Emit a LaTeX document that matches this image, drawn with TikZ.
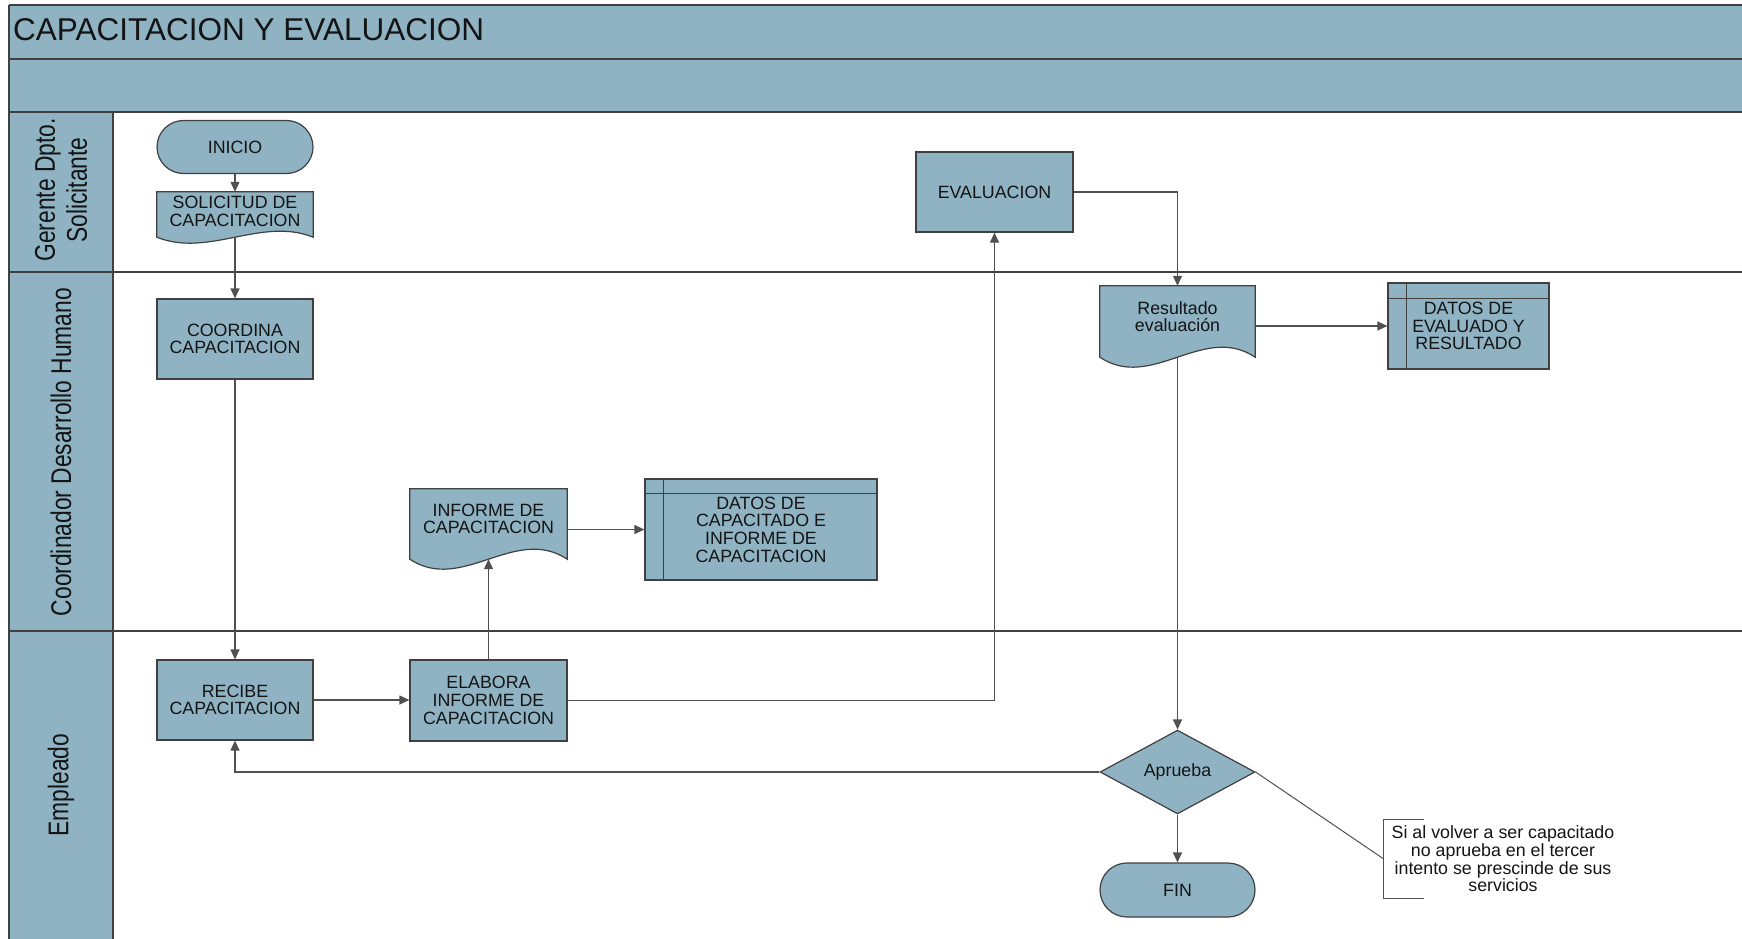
\documentclass[tikz,border=0pt]{standalone}
\usepackage{fontspec}
\setmainfont{Liberation Sans}
\newfontfamily\lanefont[FakeStretch=0.8]{Liberation Sans}
\usetikzlibrary{arrows.meta,shapes.geometric,shapes.misc,calc}
\definecolor{boxfill}{RGB}{143,179,195}
\definecolor{edge}{RGB}{64,64,64}
\definecolor{wire}{RGB}{80,80,80}
\definecolor{ink}{RGB}{20,20,20}
\newcommand{\flowtext}{\fontsize{17.8}{17.7}\selectfont}
\newcommand{\titletext}{\fontsize{31.5}{34}\selectfont}
\newcommand{\lanetext}{\lanefont\fontsize{28.5}{32}\selectfont}
% document shape: flat top, wavy bottom through the node's south anchor
% #1 node name, #2 width, #3 wave amplitude
\newcommand{\docshape}[3]{%
  \draw[shapeline, fill=boxfill] (#1.north west) -- (#1.north east) -- (#1.south east)
    .. controls +({-#2/3},{-3.46*#3}) and +({#2/3},{3.46*#3}) .. (#1.south west) -- cycle;}
\begin{document}
\begin{tikzpicture}[x=1pt,y=-1pt,
  frame/.style={draw=edge, line width=1.4pt},
  shapeline/.style={draw=edge, line width=1.2pt},
  proc/.style={shapeline, fill=boxfill, inner sep=0pt, align=center, text=ink, font=\flowtext},
  term/.style={proc, rounded rectangle},
  decision/.style={proc, diamond, minimum width=155pt, minimum height=80pt},
  docbox/.style={draw=none, inner sep=0pt},
  txt/.style={inner sep=0pt, align=center, text=ink, font=\flowtext},
  lane/.style={inner sep=0pt, align=center, text=ink, font=\lanetext, rotate=90},
  conn/.style={draw=wire, line width=1.2pt, -{Triangle[length=10pt,width=9pt]}},
  thinline/.style={draw=wire, line width=1pt},
]
\useasboundingbox (0,0) rectangle (1742,939);
\clip (0,0) rectangle (1742,939);

% header bands and lane column
\fill[boxfill] (9,5) rectangle (1760,112);
\fill[boxfill] (9,112) rectangle (113,950);
\draw[frame] (9,5) -- (1760,5);
\draw[frame] (9,59) -- (1760,59);
\draw[frame] (9,112) -- (1760,112);
\draw[frame] (9,272) -- (1760,272);
\draw[frame] (9,631) -- (1760,631);
\draw[frame] (9,5) -- (9,950);
\draw[frame] (113,112) -- (113,950);

\node[anchor=base west, text=ink, font=\titletext, inner sep=0pt] (title) at (13,41) {CAPACITACION Y EVALUACION};

\node[lane] (lane1) at (61,190) {Gerente Dpto.\\Solicitante};
\node[lane] (lane2) at (61,452) {Coordinador Desarrollo Humano};
\node[lane] (lane3) at (61,785) {Empleado};

% lane 1
\node[term, minimum width=156pt, minimum height=53pt] (inicio) at (235,147) {INICIO};
\node[docbox, minimum width=156pt, minimum height=45pt] (sol) at (235,214.5) {};
\docshape{sol}{156}{6}
\node[txt] (sol-t) at ([yshift=3pt]sol.center) {SOLICITUD DE\\CAPACITACION};
\node[proc, minimum width=157pt, minimum height=80pt] (eval) at (994.5,192) {EVALUACION};

% lane 2
\node[proc, minimum width=156pt, minimum height=80pt] (coord) at (235,339) {COORDINA\\CAPACITACION};
\node[docbox, minimum width=157pt, minimum height=70pt] (inf) at (488.5,524) {};
\docshape{inf}{157}{10}
\node[txt] (inf-t) at ([yshift=5pt]inf.center) {INFORME DE\\CAPACITACION};
\node[proc, minimum width=232pt, minimum height=101pt] (datc) at (761,529.5) {DATOS DE\\CAPACITADO E\\INFORME DE\\CAPACITACION};
\draw[shapeline] ([xshift=19pt]datc.north west) -- ([xshift=19pt]datc.south west);
\draw[shapeline] ([yshift=-15pt]datc.north west) -- ([yshift=-15pt]datc.north east);
\node[docbox, minimum width=155pt, minimum height=71pt] (res) at (1177.5,321.5) {};
\docshape{res}{155}{10}
\node[txt] (res-t) at ([yshift=5pt]res.center) {Resultado\\evaluación};
\node[proc, minimum width=161pt, minimum height=86pt] (date) at (1468.5,326) {DATOS DE\\EVALUADO Y\\RESULTADO};
\draw[shapeline] ([xshift=19pt]date.north west) -- ([xshift=19pt]date.south west);
\draw[shapeline] ([yshift=-16pt]date.north west) -- ([yshift=-16pt]date.north east);

% lane 3
\node[proc, minimum width=156pt, minimum height=80pt] (recibe) at (235,700) {RECIBE\\CAPACITACION};
\node[proc, minimum width=157pt, minimum height=81pt] (elabora) at (488.5,700.5) {ELABORA\\INFORME DE\\CAPACITACION};
\node[decision] (apr) at (1177.5,772) {Aprueba};
\node[term, minimum width=155pt, minimum height=54pt] (fin) at (1177.5,890) {FIN};
\node[txt, minimum width=238pt, minimum height=78pt] (note) at (1503,859) {Si al volver a ser capacitado\\no aprueba en el tercer\\intento se prescinde de sus\\servicios};
\draw[thinline] ([xshift=40pt]note.north west) -- (note.north west) -- (note.south west) -- ([xshift=40pt]note.south west);

% connectors
\draw[conn] (inicio.south) -- (sol.north);
\draw[conn] (sol.south) -- (coord.north);
\draw[conn] (coord.south) -- (recibe.north);
\draw[conn] (recibe.east) -- (recibe.east -| elabora.west);
\draw[conn] (elabora.north) -- (elabora.north |- inf.south);
\draw[conn] (inf.east |- datc.west) -- (datc.west);
\draw[conn] (elabora.east) -| (eval.south);
\draw[conn] (eval.east) -| (res.north);
\draw[conn] (res.east |- date.west) -- (date.west);
\draw[conn] (res.south) -- (apr.north);
\draw[conn] (apr.west) -| (recibe.south);
\draw[conn] (apr.south) -- (fin.north);
\draw[thinline] (apr.east) -- (note.west);
\end{tikzpicture}
\end{document}
